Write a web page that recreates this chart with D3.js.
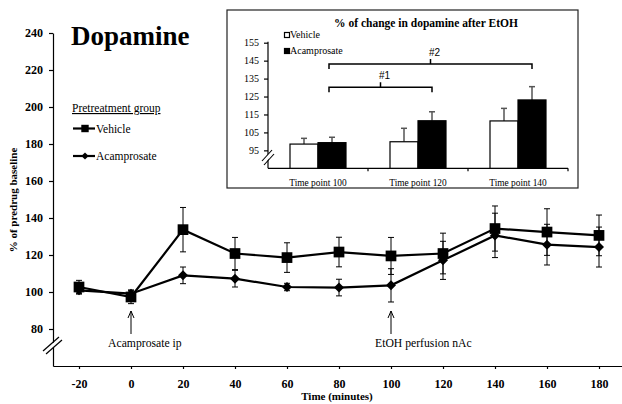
<!DOCTYPE html>
<html lang="en">
<head>
<meta charset="UTF-8" />
<title>Dopamine</title>
<script src="https://cdn.jsdelivr.net/npm/d3@7"></script>
<style>
  body { margin: 0; background: #fff; }
  svg text { font-family: "Liberation Serif", Tinos, "Times New Roman", Times, "DejaVu Serif", serif; fill: #000; }
</style>
</head>
<body>
<script>
// ---- main time course data ----
const times = [-20, 0, 20, 40, 60, 80, 100, 120, 140, 160, 180];
const vehicleMean = [102.7, 97.3, 133.7, 120.8, 118.6, 121.6, 119.5, 120.8, 134.3, 132.4, 130.6];
const vehicleErr = [3.6, 3.6, 12, 8.7, 8, 8, 10, 11, 12.2, 12.6, 11];
const acampMean = [100.9, 99.1, 109, 107.2, 102.7, 102.4, 103.6, 117.1, 130.6, 125.6, 124.3];
const acampErr = [2, 2, 4.5, 4.5, 2, 4.5, 9, 10.3, 12, 11, 10.8];
const xTicks = [-20, 0, 20, 40, 60, 80, 100, 120, 140, 160, 180];
const yTicks = [80, 100, 120, 140, 160, 180, 200, 220, 240];
const groups = ["Vehicle", "Acamprosate"];
const eventTimes = [0, 100];
const eventLabels = ["Acamprosate ip", "EtOH perfusion nAc"];

// ---- inset data ----
const insetCats = ["Time point 100", "Time point 120", "Time point 140"];
const insetVehicle = [98.5, 99.8, 111.4];
const insetVehicleErr = [3.2, 7.5, 7];
const insetAcamp = [99.3, 111.5, 123.1];
const insetAcampErr = [3, 5, 7.4];
const insetTicks = [95, 105, 115, 125, 135, 145, 155];
const brackets = [
  { label: "#1", from: 0, to: 1, level: 130.2 },
  { label: "#2", from: 0, to: 2, level: 143.1 }
];

const W = 622, H = 404;
const svg = d3.select("body").append("svg").attr("width", W).attr("height", H);

// scales
const x = d3.scaleLinear().domain([-30, 190]).range([53, 625]);
const y = d3.scaleLinear().domain([60, 240]).range([366, 33]);

// x axis
const gx = svg.append("g").attr("transform", `translate(0,${y(60)})`)
  .call(d3.axisBottom(x).tickValues(xTicks).tickFormat(d => String(d)).tickSize(3).tickSizeOuter(0));
gx.selectAll("text").attr("y", 22).attr("dy", 0)
  .style("font-size", "12px").style("font-weight", "bold");

// y axis
const gy = svg.append("g").attr("transform", `translate(${x(-30)},0)`)
  .call(d3.axisLeft(y).tickValues(yTicks).tickSize(4).tickPadding(6).tickSizeOuter(0));
gy.selectAll("text").style("font-size", "12px").style("font-weight", "bold");
svg.selectAll("g").attr("font-family", null);
svg.selectAll(".domain, .tick line").attr("stroke", "#000").attr("stroke-width", 1.2);

// axis break
const bx = x(-30), by = 345;
svg.append("polygon")
  .attr("points", `${bx - 9},${by + 6} ${bx + 7},${by - 8} ${bx + 9},${by - 5} ${bx - 7},${by + 9}`)
  .attr("fill", "#fff");
svg.append("line").attr("x1", bx - 10).attr("y1", by + 6).attr("x2", bx + 6).attr("y2", by - 8)
  .attr("stroke", "#000").attr("stroke-width", 1.2);
svg.append("line").attr("x1", bx - 7).attr("y1", by + 9).attr("x2", bx + 9).attr("y2", by - 5)
  .attr("stroke", "#000").attr("stroke-width", 1.2);

// axis titles
svg.append("text").attr("x", 337).attr("y", 400).attr("text-anchor", "middle")
  .style("font-size", "11px").style("font-weight", "bold").text("Time (minutes)");
svg.append("text").attr("transform", "translate(17,200) rotate(-90)").attr("text-anchor", "middle")
  .style("font-size", "11px").style("font-weight", "bold").text("% of predrug baseline");

svg.append("text").attr("x", 71).attr("y", 45)
  .style("font-size", "27px").style("font-weight", "bold").text("Dopamine");

// series
const series = [
  { name: groups[0], mean: vehicleMean, err: vehicleErr, shape: "square" },
  { name: groups[1], mean: acampMean, err: acampErr, shape: "diamond" }
];
// diamond = square turned 45deg
const marker = (shape, big) => shape === "square"
  ? { d: d3.symbol().type(d3.symbolSquare).size(big ? 115 : 55)(), rot: 0 }
  : { d: d3.symbol().type(d3.symbolSquare).size(big ? 50 : 26)(), rot: 45 };
const line = d3.line().x(d => x(d.t)).y(d => y(d.v));

series.forEach(s => {
  const pts = times.map((t, i) => ({ t, v: s.mean[i], e: s.err[i] }));
  const g = svg.append("g");
  const eb = g.selectAll(".eb").data(pts).enter().append("g").attr("stroke", "#000").attr("stroke-width", 1);
  eb.append("line").attr("x1", d => x(d.t)).attr("x2", d => x(d.t))
    .attr("y1", d => y(d.v - d.e)).attr("y2", d => y(d.v + d.e));
  eb.append("line").attr("x1", d => x(d.t) - 3).attr("x2", d => x(d.t) + 3)
    .attr("y1", d => y(d.v + d.e)).attr("y2", d => y(d.v + d.e));
  eb.append("line").attr("x1", d => x(d.t) - 3).attr("x2", d => x(d.t) + 3)
    .attr("y1", d => y(d.v - d.e)).attr("y2", d => y(d.v - d.e));
  g.append("path").datum(pts).attr("d", line).attr("fill", "none")
    .attr("stroke", "#000").attr("stroke-width", 2.2);
  const m = marker(s.shape, true);
  g.selectAll(".m").data(pts).enter().append("path")
    .attr("transform", d => `translate(${x(d.t)},${y(d.v)}) rotate(${m.rot})`)
    .attr("d", m.d).attr("fill", "#000");
});

// legend
svg.append("text").attr("x", 72).attr("y", 112).style("font-size", "11.5px")
  .style("text-decoration", "underline").text("Pretreatment group");
series.forEach((s, i) => {
  const ly = 128.5 + i * 27.5;
  svg.append("line").attr("x1", 73).attr("x2", 95).attr("y1", ly).attr("y2", ly)
    .attr("stroke", "#000").attr("stroke-width", 2.2);
  const m = marker(s.shape, false);
  svg.append("path").attr("transform", `translate(85,${ly}) rotate(${m.rot})`)
    .attr("d", m.d).attr("fill", "#000");
  svg.append("text").attr("x", 96).attr("y", ly + 4).style("font-size", "11.5px").text(s.name);
});

// event arrows
const labelShift = [-23, -16];
eventTimes.forEach((t, i) => {
  const ax = x(t);
  const g = svg.append("g").attr("stroke", "#000").attr("stroke-width", 1).attr("fill", "none");
  g.append("line").attr("x1", ax).attr("x2", ax).attr("y1", 311).attr("y2", 334);
  g.append("path").attr("d", `M${ax - 3},${318} L${ax},${311} L${ax + 3},${318}`);
  svg.append("text").attr("x", ax + labelShift[i]).attr("y", 347)
    .style("font-size", "11.7px").text(eventLabels[i]);
});

// ---- inset ----
const inset = svg.append("g");
inset.append("rect").attr("x", 227).attr("y", 10).attr("width", 351).attr("height", 178)
  .attr("fill", "#fff").attr("stroke", "#222").attr("stroke-width", 1.2);

const xb = d3.scaleBand().domain(insetCats).range([268, 568]).paddingInner(0.44).paddingOuter(0.22);
const xs = d3.scaleBand().domain(groups).range([0, xb.bandwidth()]);
const yi = d3.scaleLinear().domain([85, 155]).range([168.3, 42.7]);

inset.append("text").attr("x", 426).attr("y", 27).attr("text-anchor", "middle")
  .style("font-size", "11.5px").style("font-weight", "bold").text("% of change in dopamine after EtOH");

const giy = inset.append("g").attr("transform", "translate(268,0)")
  .call(d3.axisLeft(yi).tickValues(insetTicks).tickSize(4).tickPadding(5).tickSizeOuter(0));
giy.selectAll("text").style("font-size", "10px");
giy.select(".domain").attr("d", `M0,${yi(155) - 1}V${yi(85)}`);

const gix = inset.append("g").attr("transform", `translate(0,${yi(85)})`)
  .call(d3.axisBottom(xb).tickSize(0).tickPadding(12).tickSizeOuter(0));
gix.selectAll("text").attr("dy", 0).attr("y", 17.7).style("font-size", "9.4px");
gix.select(".domain").attr("d", "M268,0H568");
inset.selectAll("g").attr("font-family", null);
inset.selectAll(".domain, .tick line").attr("stroke", "#000").attr("stroke-width", 1.2);
// boundary ticks between categories
inset.append("g").selectAll("line").data(insetCats).enter().append("line")
  .attr("x1", d => xb(d) - xb.paddingOuter() * xb.step() + xb.step())
  .attr("x2", d => xb(d) - xb.paddingOuter() * xb.step() + xb.step())
  .attr("y1", yi(85)).attr("y2", yi(85) + 3).attr("stroke", "#000").attr("stroke-width", 1.2);

// inset break
const ibx = 268, iby = 157;
inset.append("polygon")
  .attr("points", `${ibx - 6},${iby + 4} ${ibx + 4},${iby - 7} ${ibx + 6},${iby - 4} ${ibx - 4},${iby + 7}`)
  .attr("fill", "#fff");
inset.append("line").attr("x1", ibx - 6).attr("y1", iby + 4).attr("x2", ibx + 4).attr("y2", iby - 7)
  .attr("stroke", "#000").attr("stroke-width", 1.1);
inset.append("line").attr("x1", ibx - 4).attr("y1", iby + 8).attr("x2", ibx + 6).attr("y2", iby - 3)
  .attr("stroke", "#000").attr("stroke-width", 1.1);

const insetSeries = [
  { name: groups[0], vals: insetVehicle, err: insetVehicleErr, fill: "#fff" },
  { name: groups[1], vals: insetAcamp, err: insetAcampErr, fill: "#000" }
];
insetSeries.forEach(s => {
  insetCats.forEach((c, i) => {
    const bx0 = xb(c) + xs(s.name), bw = xs.bandwidth(), cx = bx0 + bw / 2;
    const top = yi(s.vals[i]), etop = yi(s.vals[i] + s.err[i]);
    inset.append("line").attr("x1", cx).attr("x2", cx).attr("y1", top).attr("y2", etop)
      .attr("stroke", "#555").attr("stroke-width", 1.5);
    inset.append("line").attr("x1", cx - 3).attr("x2", cx + 3).attr("y1", etop).attr("y2", etop)
      .attr("stroke", "#555").attr("stroke-width", 1.5);
    inset.append("rect").attr("x", bx0).attr("y", top).attr("width", bw)
      .attr("height", yi(85) - top).attr("fill", s.fill).attr("stroke", "#000").attr("stroke-width", 1.2);
  });
});

// inset legend
insetSeries.forEach((s, i) => {
  const ly = 38 + i * 16;
  inset.append("rect").attr("x", 284.5).attr("y", ly - 5.5).attr("width", 5).attr("height", 5)
    .attr("fill", s.fill).attr("stroke", "#000").attr("stroke-width", 1.2);
  inset.append("text").attr("x", 290).attr("y", ly).style("font-size", "10px").text(s.name);
});

// significance brackets (between acamprosate bars)
const acCenter = i => xb(insetCats[i]) + xs(groups[1]) + xs.bandwidth() / 2;
brackets.forEach(b => {
  const x0 = acCenter(b.from) - 3, x1 = acCenter(b.to), by0 = yi(b.level), mx = (x0 + x1) / 2;
  inset.append("path")
    .attr("d", `M${x0},${by0 + 5}V${by0}H${x1}V${by0 + 5}M${mx},${by0}V${by0 - 5}`)
    .attr("fill", "none").attr("stroke", "#000").attr("stroke-width", 1.5);
  inset.append("text").attr("x", mx + 4).attr("y", by0 - 8).attr("text-anchor", "middle")
    .style("font-family", "'Liberation Sans', Arial, sans-serif").style("font-size", "10px").text(b.label);
});
</script>
</body>
</html>
